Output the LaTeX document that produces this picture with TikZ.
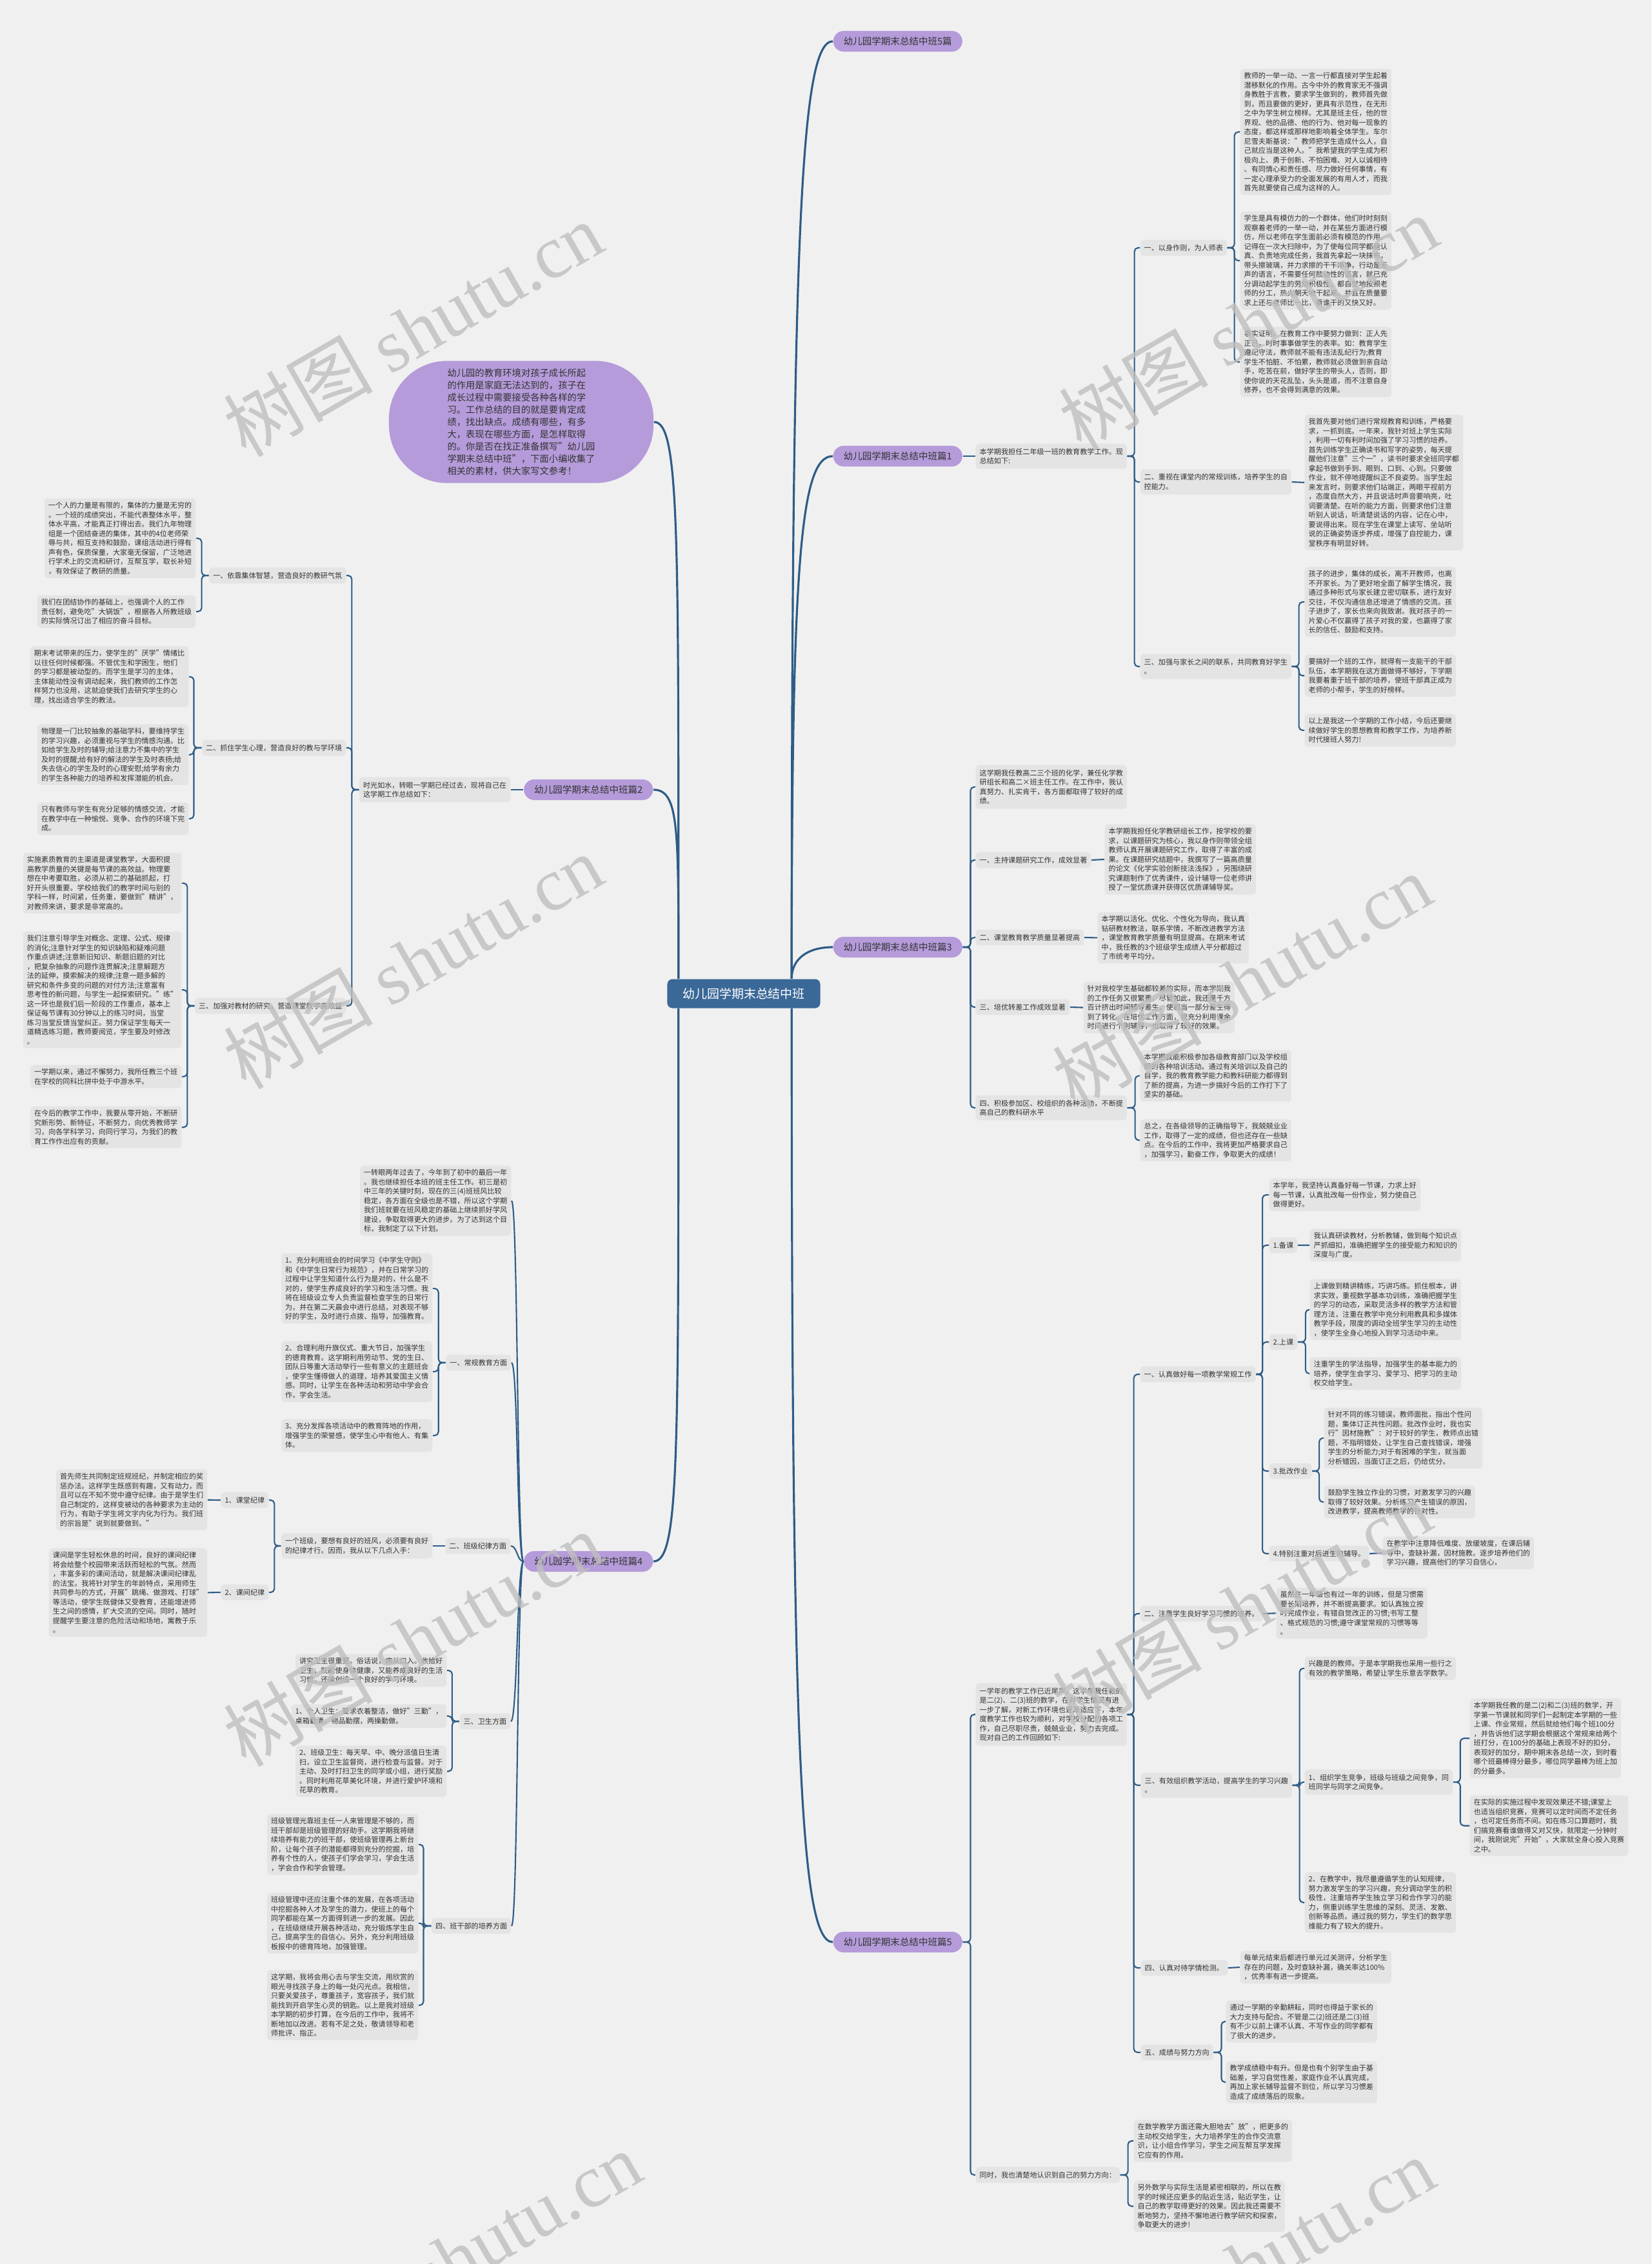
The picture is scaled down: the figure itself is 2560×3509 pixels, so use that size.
\documentclass[tikz,border=0pt]{standalone}
\usepackage{fontspec}
\setmainfont{Noto Sans CJK SC}
\newfontfamily\wmfont{Liberation Serif}
\definecolor{bgcol}{HTML}{F0F0F0}
\definecolor{boxgray}{HTML}{E4E4E4}
\definecolor{linkblue}{HTML}{2E5C86}
\definecolor{rootblue}{HTML}{3A6897}
\definecolor{topicpurple}{HTML}{B59BDA}
\definecolor{textgray}{HTML}{333333}
\newcommand{\leaffont}{\fontsize{3.16pt}{4.13pt}\selectfont}
\newcommand{\topicfont}{\fontsize{4.13pt}{5pt}\selectfont}
\newcommand{\bubblefont}{\fontsize{4.07pt}{5.41pt}\selectfont}
\newcommand{\rootfont}{\fontsize{5.4pt}{6.5pt}\selectfont}

\begin{document}
\begin{tikzpicture}[x=0.01cm, y=-0.01cm,
  leaf/.style={fill=boxgray, rounded corners=1.4pt, text=textgray, font=\leaffont, align=left, inner xsep=0.06cm, inner ysep=0.055cm},
  subbox/.style={leaf, inner ysep=0.07cm},
  topic/.style={fill=topicpurple, rounded corners=0.16cm, text=textgray, font=\topicfont, minimum width=2cm, minimum height=0.32cm, inner sep=0pt},
  rootnode/.style={fill=rootblue, text=white, rounded corners=0.08cm, font=\rootfont, minimum width=2.37cm, minimum height=0.45cm, inner sep=0pt},
  bubble/.style={fill=topicpurple, rounded corners=0.9cm, text=textgray, font=\bubblefont, align=left, minimum width=4.1cm, minimum height=1.87cm},
  link/.style={draw=linkblue, line width=0.6pt, rounded corners=1.6pt},
  trunk/.style={draw=linkblue, line width=0.9pt},
  wmark/.style={text=black!25, opacity=0.8, rotate=30, font=\fontsize{33pt}{36pt}\selectfont}
]
\fill[bgcol] (0,0) rectangle (2560,3509);
\useasboundingbox (0,0) rectangle (2560,3509);

% root and main topics
\node[rootnode] (root) at (1153,1540) {幼儿园学期末总结中班};
\node[topic, anchor=west] (t0) at (1291,64) {幼儿园学期末总结中班5篇};
\node[topic, anchor=west] (t1) at (1291,707) {幼儿园学期末总结中班篇1};
\node[topic, anchor=west] (t3) at (1291,1468) {幼儿园学期末总结中班篇3};
\node[topic, anchor=west] (t5) at (1291,3010) {幼儿园学期末总结中班篇5};
\node[topic, anchor=east] (t2) at (1013,1224) {幼儿园学期末总结中班篇2};
\node[topic, anchor=east] (t4) at (1013,2420) {幼儿园学期末总结中班篇4};
\node[bubble] (intro) at (808,654) {幼儿园的教育环境对孩子成长所起\\的作用是家庭无法达到的，孩子在\\成长过程中需要接受各种各样的学\\习。工作总结的目的就是要肯定成\\绩，找出缺点。成绩有哪些，有多\\大，表现在哪些方面，是怎样取得\\的。你是否在找正准备撰写"幼儿园\\学期末总结中班"，下面小编收集了\\相关的素材，供大家写文参考！};

\draw[trunk] ([xshift=-0.45cm]root.north east) .. controls +(0,-1150) and +(-50,0) .. (t0.west);
\draw[trunk] ([xshift=-0.45cm]root.north east) .. controls +(0,-650) and +(-50,0) .. (t1.west);
\draw[trunk] ([xshift=-0.45cm]root.north east) .. controls +(0,-30) and +(-40,0) .. (t3.west);
\draw[trunk] ([xshift=-0.45cm]root.south east) .. controls +(0,1150) and +(-50,0) .. (t5.west);
\draw[trunk] ([xshift=0.18cm]root.north west) .. controls +(0,-690) and +(40,0) .. (intro.east);
\draw[trunk] ([xshift=0.18cm]root.north west) .. controls +(0,-230) and +(40,0) .. (t2.east);
\draw[trunk] ([xshift=0.18cm]root.south west) .. controls +(0,700) and +(40,0) .. (t4.east);

% part 1
\node[subbox, anchor=west] (p1i) at (1512,707) {本学期我担任二年级一班的教育教学工作。现\\总结如下:};
\node[subbox, anchor=west] (p1a) at (1767,384) {一、以身作则，为人师表};
\node[subbox, anchor=west] (p1b) at (1767,747) {二、重视在课堂内的常规训练，培养学生的自\\控能力。};
\node[subbox, anchor=west] (p1c) at (1767,1033) {三、加强与家长之间的联系，共同教育好学生\\。};
\node[leaf, anchor=north west] (p1a1) at (1922,106) {教师的一举一动、一言一行都直接对学生起着\\潜移默化的作用。古今中外的教育家无不强调\\身教胜于言教，要求学生做到的，教师首先做\\到，而且要做的更好，更具有示范性，在无形\\之中为学生树立榜样。尤其是班主任，他的世\\界观、他的品德、他的行为、他对每一现象的\\态度，都这样或那样地影响着全体学生。车尔\\尼雪夫斯基说："教师把学生造成什么人，自\\己就应当是这种人。"我希望我的学生成为积\\极向上、勇于创新、不怕困难、对人以诚相待\\、有同情心和责任感、尽力做好任何事情，有\\一定心理承受力的全面发展的有用人才，而我\\首先就要使自己成为这样的人。};
\node[leaf, anchor=north west] (p1a2) at (1922,327) {学生是具有模仿力的一个群体，他们时时刻刻\\观察着老师的一举一动，并在某些方面进行模\\仿，所以老师在学生面前必须有模范的作用。\\记得在一次大扫除中，为了使每位同学都能认\\真、负责地完成任务，我首先拿起一块抹布，\\带头擦玻璃，并力求擦的干干净净。行动是无\\声的语言，不需要任何鼓动性的语言，就已充\\分调动起学生的劳动积极性，都自觉地按照老\\师的分工，热火朝天地干起来，并且在质量要\\求上还与老师比一比，看谁干的又快又好。};
\node[leaf, anchor=north west] (p1a3) at (1922,506) {事实证明，在教育工作中要努力做到：正人先\\正己，时时事事做学生的表率。如：教育学生\\遵纪守法，教师就不能有违法乱纪行为;教育\\学生不怕脏、不怕累，教师就必须做到亲自动\\手，吃苦在前，做好学生的带头人，否则，即\\使你说的天花乱坠，头头是道，而不注意自身\\修养，也不会得到满意的效果。};
\node[leaf, anchor=north west] (p1b1) at (2022,642) {我首先要对他们进行常规教育和训练，严格要\\求，一抓到底。一年来，我针对班上学生实际\\，利用一切有利时间加强了学习习惯的培养。\\首先训练学生正确读书和写字的姿势，每天提\\醒他们注意"三个一"，读书时要求全班同学都\\拿起书做到手到、眼到、口到、心到。只要做\\作业，就不停地提醒纠正不良姿势。当学生起\\来发言时，则要求他们站端正，两眼平视前方\\，态度自然大方，并且说话时声音要响亮，吐\\词要清楚。在听的能力方面，则要求他们注意\\听别人说话，听清楚说话的内容，记在心中，\\要说得出来。现在学生在课堂上读写、坐站听\\说的正确姿势逐步养成，增强了自控能力，课\\堂秩序有明显好转。};
\node[leaf, anchor=north west] (p1c1) at (2022,878) {孩子的进步，集体的成长，离不开教师，也离\\不开家长。为了更好地全面了解学生情况，我\\通过多种形式与家长建立密切联系，进行友好\\交往，不仅沟通信息还增进了情感的交流。孩\\子进步了，家长也来向我致谢。我对孩子的一\\片爱心不仅赢得了孩子对我的爱，也赢得了家\\长的信任、鼓励和支持。};
\node[leaf, anchor=north west] (p1c2) at (2022,1014) {要搞好一个班的工作，就得有一支能干的干部\\队伍，本学期我在这方面做得不够好，下学期\\我要着重于班干部的培养，使班干部真正成为\\老师的小帮手，学生的好榜样。};
\node[leaf, anchor=north west] (p1c3) at (2022,1106) {以上是我这一个学期的工作小结，今后还要继\\续做好学生的思想教育和教学工作，为培养新\\时代接班人努力!};

\draw[link] (t1.east) -- (p1i.west);
\foreach \c in {p1a,p1b,p1c} \draw[link] (p1i.east) -- ++(11,0) |- (\c.west);
\foreach \c in {p1a1,p1a2,p1a3} \draw[link] (p1a.east) -- ++(11,0) |- (\c.west);
\draw[link] (p1b.east) -- (p1b1.west);
\foreach \c in {p1c1,p1c2,p1c3} \draw[link] (p1c.east) -- ++(11,0) |- (\c.west);

% part 2
\node[subbox, anchor=east] (p2i) at (792,1224) {时光如水，转眼一学期已经过去，现将自己在\\这学期工作总结如下：};
\node[subbox, anchor=east] (p2a) at (537,892) {一、依靠集体智慧，营造良好的教研气氛};
\node[subbox, anchor=east] (p2b) at (537,1159) {二、抓住学生心理，营造良好的教与学环境};
\node[subbox, anchor=east] (p2c) at (537,1559) {三、加强对教材的研究，营造课堂教学高效益};
\node[leaf, anchor=north east] (p2a1) at (304,772) {一个人的力量是有限的，集体的力量是无穷的\\。一个班的成绩突出，不能代表整体水平，整\\体水平高，才能真正打得出去。我们九年物理\\组是一个团结奋进的集体，其中的4位老师荣\\辱与共，相互支持和鼓励，课组活动进行得有\\声有色，保质保量，大家毫无保留，广泛地进\\行学术上的交流和研讨，互帮互学，取长补短\\，有效保证了教研的质量。};
\node[leaf, anchor=north east] (p2a2) at (304,922) {我们在团结协作的基础上，也强调个人的工作\\责任制，避免吃"大锅饭"，根据各人所教班级\\的实际情况订出了相应的奋斗目标。};
\node[leaf, anchor=north east] (p2b1) at (293,1001) {期末考试带来的压力，使学生的"厌学"情绪比\\以往任何时候都强。不管优生和学困生，他们\\的学习都是被动型的。而学生是学习的主体，\\主体能动性没有调动起来，我们教师的工作怎\\样努力也没用，这就迫使我们去研究学生的心\\理，找出适合学生的教法。};
\node[leaf, anchor=north east] (p2b2) at (293,1122) {物理是一门比较抽象的基础学科，要维持学生\\的学习兴趣，必须重视与学生的情感沟通。比\\如给学生及时的辅导;给注意力不集中的学生\\及时的提醒;给有好的解法的学生及时表扬;给\\失去信心的学生及时的心理安慰;给学有余力\\的学生各种能力的培养和发挥潜能的机会。};
\node[leaf, anchor=north east] (p2b3) at (293,1243) {只有教师与学生有充分足够的情感交流，才能\\在教学中在一种愉悦、竞争、合作的环境下完\\成。};
\node[leaf, anchor=north east] (p2c1) at (282,1321) {实施素质教育的主渠道是课堂教学，大面积提\\高教学质量的关键是每节课的高效益。物理要\\想在中考要取胜，必须从初二的基础抓起，打\\好开头很重要。学校给我们的教学时间与别的\\学科一样，时间紧，任务重，要做到"精讲"，\\对教师来讲，要求是非常高的。};
\node[leaf, anchor=north east] (p2c2) at (282,1443) {我们注意引导学生对概念、定理、公式、规律\\的消化;注意针对学生的知识缺陷和疑难问题\\作重点讲述;注意新旧知识、新题旧题的对比\\，把复杂抽象的问题作连贯解决;注意解题方\\法的延伸，摸索解决的规律;注意一题多解的\\研究和条件多变的问题的对付方法;注意富有\\思考性的新问题，与学生一起探索研究。"练"\\这一环也是我们后一阶段的工作重点，基本上\\保证每节课有30分钟以上的练习时间，当堂\\练习当堂反馈当堂纠正。努力保证学生每天一\\道精选练习题，教师要阅览，学生要及时修改\\。};
\node[leaf, anchor=north east] (p2c3) at (282,1650) {一学期以来，通过不懈努力，我所任教三个班\\在学校的同科比拼中处于中游水平。};
\node[leaf, anchor=north east] (p2c4) at (282,1714) {在今后的教学工作中，我要从零开始，不断研\\究新形势、新特征，不断努力，向优秀教师学\\习，向各学科学习，向同行学习，为我们的教\\育工作作出应有的贡献。};

\draw[link] (t2.west) -- (p2i.east);
\foreach \c in {p2a,p2b,p2c} \draw[link] (p2i.west) -- ++(-11,0) |- (\c.east);
\foreach \c in {p2a1,p2a2} \draw[link] (p2a.west) -- ++(-11,0) |- (\c.east);
\foreach \c in {p2b1,p2b2,p2b3} \draw[link] (p2b.west) -- ++(-12,0) |- (\c.east);
\foreach \c in {p2c1,p2c2,p2c3,p2c4} \draw[link] (p2c.west) -- ++(-11,0) |- (\c.east);

% part 3
\node[subbox, anchor=north west] (p3i) at (1512,1185) {这学期我任教高二三个班的化学，兼任化学教\\研组长和高二×班主任工作。在工作中，我认\\真努力、扎实肯干，各方面都取得了较好的成\\绩。};
\node[subbox, anchor=west] (p3a) at (1512,1333) {一、主持课题研究工作，成效显著};
\node[subbox, anchor=west] (p3b) at (1512,1453) {二、课堂教育教学质量显著提高};
\node[subbox, anchor=west] (p3c) at (1512,1561) {三、培优转差工作成效显著};
\node[subbox, anchor=west] (p3d) at (1512,1717) {四、积极参加区、校组织的各种活动，不断提\\高自己的教科研水平};
\node[leaf, anchor=north west] (p3a1) at (1712,1277) {本学期我担任化学教研组长工作，按学校的要\\求，以课题研究为核心，我以身作则带领全组\\教师认真开展课题研究工作，取得了丰富的成\\果。在课题研究结题中，我撰写了一篇高质量\\的论文《化学实验创新技法浅探》，另围绕研\\究课题制作了优秀课件，设计辅导一位老师讲\\授了一堂优质课并获得区优质课辅导奖。};
\node[leaf, anchor=north west] (p3b1) at (1701,1413) {本学期以活化、优化、个性化为导向，我认真\\钻研教材教法，联系学情，不断改进教学方法\\，课堂教育教学质量有明显提高。在期末考试\\中，我任教的3个班级学生成绩人平分都超过\\了市统考平均分。};
\node[leaf, anchor=north west] (p3c1) at (1679,1521) {针对我校学生基础都较差的实际，而本学期我\\的工作任务又很繁重，尽管如此，我还是千方\\百计挤出时间辅导差生，使相当一部分差生得\\到了转化。在培优工作方面，我充分利用课余\\时间进行个别辅导，也取得了较好的效果。};
\node[leaf, anchor=north west] (p3d1) at (1767,1627) {本学期我能积极参加各级教育部门以及学校组\\织的各种培训活动。通过有关培训以及自己的\\自学，我的教育教学能力和教科研能力都得到\\了新的提高，为进一步搞好今后的工作打下了\\坚实的基础。};
\node[leaf, anchor=north west] (p3d2) at (1767,1734) {总之，在各级领导的正确指导下，我兢兢业业\\工作，取得了一定的成绩，但也还存在一些缺\\点。在今后的工作中，我将更加严格要求自己\\，加强学习，勤奋工作，争取更大的成绩！};

\foreach \c in {p3i,p3a,p3b,p3c,p3d} \draw[link] (t3.east) -- ++(12,0) |- (\c.west);
\draw[link] (p3a.east) -- (p3a1.west);
\draw[link] (p3b.east) -- (p3b1.west);
\draw[link] (p3c.east) -- (p3c1.west);
\foreach \c in {p3d1,p3d2} \draw[link] (p3d.east) -- ++(12,0) |- (\c.west);

% part 4
\node[leaf, anchor=north east] (p4i) at (793,1806) {一转眼两年过去了，今年到了初中的最后一年\\。我也继续担任本班的班主任工作。初三是初\\中三年的关键时刻，现在的三(4)班班风比较\\稳定，各方面在全级也是不错，所以这个学期\\我们班就要在班风稳定的基础上继续抓好学风\\建设，争取取得更大的进步。为了达到这个目\\标，我制定了以下计划。};
\node[subbox, anchor=east] (p4a) at (793,2112) {一、常规教育方面};
\node[subbox, anchor=east] (p4b) at (792,2396) {二、班级纪律方面};
\node[subbox, anchor=east] (p4c) at (792,2668) {三、卫生方面};
\node[subbox, anchor=east] (p4d) at (793,2985) {四、班干部的培养方面};
\node[leaf, anchor=north east] (p4a1) at (671,1942) {1、充分利用班会的时间学习《中学生守则》\\和《中学生日常行为规范》，并在日常学习的\\过程中让学生知道什么行为是对的，什么是不\\对的，使学生养成良好的学习和生活习惯。我\\将在班级设立专人负责监督检查学生的日常行\\为，并在第二天晨会中进行总结，对表现不够\\好的学生，及时进行点拨、指导，加强教育。};
\node[leaf, anchor=north east] (p4a2) at (671,2078) {2、合理利用升旗仪式、重大节日，加强学生\\的德育教育。这学期利用劳动节、党的生日、\\团队日等重大活动举行一些有意义的主题班会\\，使学生懂得做人的道理，培养其爱国主义情\\感。同时，让学生在各种活动和劳动中学会合\\作，学会生活。};
\node[leaf, anchor=north east] (p4a3) at (671,2199) {3、充分发挥各项活动中的教育阵地的作用，\\增强学生的荣誉感，使学生心中有他人、有集\\体。};
\node[subbox, anchor=east] (p4bi) at (671,2396) {一个班级，要想有良好的班风，必须要有良好\\的纪律才行。因而，我从以下几点入手：};
\node[subbox, anchor=east] (p4b1) at (417,2325) {1、课堂纪律};
\node[subbox, anchor=east] (p4b2) at (417,2468) {2、课间纪律};
\node[leaf, anchor=north east] (p4b1a) at (322,2277) {首先师生共同制定班规班纪，并制定相应的奖\\惩办法。这样学生既感到有趣，又有动力，而\\且可以在不知不觉中遵守纪律。由于是学生们\\自己制定的，这样变被动的各种要求为主动的\\行为，有助于学生将文字内化为行为。我们班\\的宗旨是"说到就要做到。"};
\node[leaf, anchor=north east] (p4b2a) at (322,2399) {课间是学生轻松休息的时间，良好的课间纪律\\将会给整个校园带来活跃而轻松的气氛。然而\\，丰富多彩的课间活动，就是解决课间纪律乱\\的法宝。我将针对学生的年龄特点，采用师生\\共同参与的方式，开展"跳绳、做游戏、打球"\\等活动，使学生既健体又受教育，还能增进师\\生之间的感情，扩大交流的空间。同时，随时\\提醒学生要注意的危险活动和场地，寓教于乐\\。};
\node[leaf, anchor=north east] (p4c1) at (693,2563) {讲究卫生很重要。俗话说，病从口入。收拾好\\卫生，既能使身体健康，又能养成良好的生活\\习惯，还能创设一个良好的学习环境。};
\node[leaf, anchor=north east] (p4c2) at (693,2641) {1、个人卫生：要求衣着整洁，做好"三勤"，\\桌箱勤清，物品勤摆，两操勤做。};
\node[leaf, anchor=north east] (p4c3) at (693,2705) {2、班级卫生：每天早、中、晚分派值日生清\\扫，设立卫生监督岗，进行检查与监督。对于\\主动、及时打扫卫生的同学或小组，进行奖励\\。同时利用花草美化环境，并进行爱护环境和\\花草的教育。};
\node[leaf, anchor=north east] (p4d1) at (649,2811) {班级管理光靠班主任一人来管理是不够的，而\\班干部却是班级管理的好助手。这学期我将继\\续培养有能力的班干部，使班级管理再上新台\\阶，让每个孩子的潜能都得到充分的挖掘，培\\养有个性的人，使孩子们学会学习，学会生活\\，学会合作和学会管理。};
\node[leaf, anchor=north east] (p4d2) at (649,2933) {班级管理中还应注重个体的发展，在各项活动\\中挖掘各种人才及学生的潜力，使班上的每个\\同学都能在某一方面得到进一步的发展。因此\\，在班级继续开展各种活动，充分锻炼学生自\\己，提高学生的自信心。另外，充分利用班级\\板报中的德育阵地，加强管理。};
\node[leaf, anchor=north east] (p4d3) at (649,3053) {这学期，我将会用心去与学生交流，用欣赏的\\眼光寻找孩子身上的每一处闪光点。我相信，\\只要关爱孩子，尊重孩子，宽容孩子，我们就\\能找到开启学生心灵的钥匙。以上是我对班级\\本学期的初步打算，在今后的工作中，我将不\\断地加以改进。若有不足之处，敬请领导和老\\师批评、指正。};

\foreach \c in {p4i,p4a,p4b,p4c,p4d} \draw[link] (t4.west) .. controls +(-10,0) and +(10,0) .. (\c.east);
\foreach \c in {p4a1,p4a2,p4a3} \draw[link] (p4a.west) -- ++(-11,0) |- (\c.east);
\draw[link] (p4b.west) -- (p4bi.east);
\foreach \c in {p4b1,p4b2} \draw[link] (p4bi.west) -- ++(-10,0) |- (\c.east);
\draw[link] (p4b1.west) -- (p4b1a.east);
\draw[link] (p4b2.west) -- (p4b2a.east);
\foreach \c in {p4c1,p4c2,p4c3} \draw[link] (p4c.west) -- ++(-11,0) |- (\c.east);
\foreach \c in {p4d1,p4d2,p4d3} \draw[link] (p4d.west) -- ++(-12,0) |- (\c.east);

% part 5
\node[subbox, anchor=north west] (p5i) at (1512,2608) {一学年的教学工作已近尾声。这学年我任教的\\是二(2)、二(3)班的数学，在对学生情况有进\\一步了解，对新工作环境也逐渐适应下，本年\\度教学工作也较为顺利，对学校分配的各项工\\作，自己尽职尽责，兢兢业业，努力去完成。\\现对自己的工作回顾如下:};
\node[subbox, anchor=west] (p5end) at (1512,3371) {同时，我也清楚地认识到自己的努力方向：};
\node[subbox, anchor=west] (p5a) at (1767,2130) {一、认真做好每一项教学常规工作};
\node[subbox, anchor=west] (p5b) at (1767,2501) {二、注重学生良好学习习惯的培养。};
\node[subbox, anchor=west] (p5c) at (1768,2767) {三、有效组织教学活动，提高学生的学习兴趣\\。};
\node[subbox, anchor=west] (p5d) at (1768,3050) {四、认真对待学情检测。};
\node[subbox, anchor=west] (p5e) at (1768,3181) {五、成绩与努力方向};
\node[leaf, anchor=north west] (p5a0) at (1967,1826) {本学年，我坚持认真备好每一节课，力求上好\\每一节课，认真批改每一份作业，努力使自己\\做得更好。};
\node[subbox, anchor=west] (p5a1) at (1967,1930) {1.备课};
\node[subbox, anchor=west] (p5a2) at (1967,2080) {2.上课};
\node[subbox, anchor=west] (p5a3) at (1967,2280) {3.批改作业};
\node[subbox, anchor=west] (p5a4) at (1967,2408) {4.特别注重对后进生的辅导。};
\node[leaf, anchor=north west] (p5a1a) at (2030,1904) {我认真研读教材，分析教辅，做到每个知识点\\严抓细扣，准确把握学生的接受能力和知识的\\深度与广度。};
\node[leaf, anchor=north west] (p5a2a) at (2030,1982) {上课做到精讲精练，巧讲巧练。抓住根本，讲\\求实效，重视数学基本功训练，准确把握学生\\的学习的动态，采取灵活多样的教学方法和管\\理方法，注重在教学中充分利用教具和多媒体\\教学手段，限度的调动全班学生学习的主动性\\，使学生全身心地投入到学习活动中来。};
\node[leaf, anchor=north west] (p5a2b) at (2030,2103) {注重学生的学法指导，加强学生的基本能力的\\培养，使学生会学习、爱学习、把学习的主动\\权交给学生。};
\node[leaf, anchor=north west] (p5a3a) at (2052,2181) {针对不同的练习错误，教师面批，指出个性问\\题，集体订正共性问题。批改作业时，我也实\\行"因材施教"：对于较好的学生，教师点出错\\题，不指明错处，让学生自己查找错误，增强\\学生的分析能力;对于有困难的学生，就当面\\分析错因，当面订正之后，仍给优分。};
\node[leaf, anchor=north west] (p5a3b) at (2052,2302) {鼓励学生独立作业的习惯，对激发学习的兴趣\\取得了较好效果。分析练习产生错误的原因，\\改进教学，提高教师教学的针对性。};
\node[leaf, anchor=north west] (p5a4a) at (2143,2381) {在教学中注意降低难度、放缓坡度，在课后辅\\导中，查缺补漏，因材施教。逐步培养他们的\\学习兴趣，提高他们的学习自信心，};
\node[leaf, anchor=north west] (p5b1) at (1978,2460) {虽然在一年级也有过一年的训练，但是习惯需\\要长期培养，并不断提高要求。如认真独立按\\时完成作业，有错自觉改正的习惯;书写工整\\、格式规范的习惯;遵守课堂常规的习惯等等\\。};
\node[leaf, anchor=north west] (p5c0) at (2022,2567) {兴趣是的教师。于是本学期我也采用一些行之\\有效的教学策略，希望让学生乐意去学数学。};
\node[subbox, anchor=north west] (p5c1) at (2022,2742) {1、组织学生竞争，班级与班级之间竞争，同\\班同学与同学之间竞争。};
\node[leaf, anchor=north west] (p5c2) at (2022,2901) {2、在教学中，我尽量遵循学生的认知规律，\\努力激发学生的学习兴趣，充分调动学生的积\\极性，注重培养学生独立学习和合作学习的能\\力，侧重训练学生思维的深刻、灵活、发散、\\创新等品质。通过我的努力，学生们的数学思\\维能力有了较大的提升。};
\node[leaf, anchor=north west] (p5c1a) at (2278,2632) {本学期我任教的是二(2)和二(3)班的数学，开\\学第一节课就和同学们一起制定本学期的一些\\上课、作业常规，然后就给他们每个班100分\\，并告诉他们这学期会根据这个常规来给两个\\班打分，在100分的基础上表现不好的扣分，\\表现好的加分，期中期末各总结一次，到时看\\哪个班最棒得分最多，哪位同学最棒为班上加\\的分最多。};
\node[leaf, anchor=north west] (p5c1b) at (2278,2782) {在实际的实施过程中发现效果还不错;课堂上\\也适当组织竞赛，竞赛可以定时间而不定任务\\，也可定任务而不间。如在练习口算题时，我\\们搞竞赛看谁做得又对又快，就限定一分钟时\\间，我刚说完"开始"，大家就全身心投入竞赛\\之中。};
\node[leaf, anchor=north west] (p5d1) at (1922,3023) {每单元结束后都进行单元过关测评，分析学生\\存在的问题，及时查缺补漏，确关率达100\%\\，优秀率有进一步提高。};
\node[leaf, anchor=north west] (p5e1) at (1900,3100) {通过一学期的辛勤耕耘，同时也得益于家长的\\大力支持与配合。不管是二(2)班还是二(3)班\\有不少以前上课不认真、不写作业的同学都有\\了很大的进步。};
\node[leaf, anchor=north west] (p5e2) at (1900,3194) {教学成绩稳中有升。但是也有个别学生由于基\\础差，学习自觉性差，家庭作业不认真完成，\\再加上家长辅导监督不到位，所以学习习惯差\\造成了成绩落后的现象。};
\node[leaf, anchor=north west] (p5end1) at (1757,3285) {在数学教学方面还需大胆地去"放"，把更多的\\主动权交给学生，大力培养学生的合作交流意\\识，让小组合作学习，学生之间互帮互学发挥\\它应有的作用。};
\node[leaf, anchor=north west] (p5end2) at (1757,3379) {另外数学与实际生活是紧密相联的，所以在教\\学的时候还应更多的贴近生活，贴近学生，让\\自己的教学取得更好的效果。因此我还需要不\\断地努力，坚持不懈地进行教学研究和探索，\\争取更大的进步!};

\foreach \c in {p5i,p5end} \draw[link] (t5.east) -- ++(12,0) |- (\c.west);
\foreach \c in {p5a,p5b,p5c,p5d,p5e} \draw[link] (p5i.east) -- ++(10,0) |- (\c.west);
\foreach \c in {p5a0,p5a1,p5a2,p5a3,p5a4} \draw[link] (p5a.east) -- ++(10,0) |- (\c.west);
\draw[link] (p5a1.east) -- (p5a1a.west);
\foreach \c in {p5a2a,p5a2b} \draw[link] (p5a2.east) -- ++(12,0) |- (\c.west);
\foreach \c in {p5a3a,p5a3b} \draw[link] (p5a3.east) -- ++(11,0) |- (\c.west);
\draw[link] (p5a4.east) -- (p5a4a.west);
\draw[link] (p5b.east) -- (p5b1.west);
\foreach \c in {p5c0,p5c1,p5c2} \draw[link] (p5c.east) -- ++(11,0) |- (\c.west);
\foreach \c in {p5c1a,p5c1b} \draw[link] (p5c1.east) -- ++(11,0) |- (\c.west);
\draw[link] (p5d.east) -- (p5d1.west);
\foreach \c in {p5e1,p5e2} \draw[link] (p5e.east) -- ++(12,0) |- (\c.west);
\foreach \c in {p5end1,p5end2} \draw[link] (p5end.east) -- ++(12,0) |- (\c.west);

% watermarks
\node[wmark] (wm1) at (640,510) {树图 {\wmfont shutu.cn}};
\node[wmark] (wm2) at (1935,500) {树图 {\wmfont shutu.cn}};
\node[wmark] (wm3) at (640,1490) {树图 {\wmfont shutu.cn}};
\node[wmark] (wm4) at (1925,1520) {树图 {\wmfont shutu.cn}};
\node[wmark] (wm5) at (640,2540) {树图 {\wmfont shutu.cn}};
\node[wmark] (wm6) at (1925,2490) {树图 {\wmfont shutu.cn}};
\node[wmark] (wm7) at (700,3500) {树图 {\wmfont shutu.cn}};
\node[wmark] (wm8) at (1930,3510) {树图 {\wmfont shutu.cn}};
\end{tikzpicture}
\end{document}
